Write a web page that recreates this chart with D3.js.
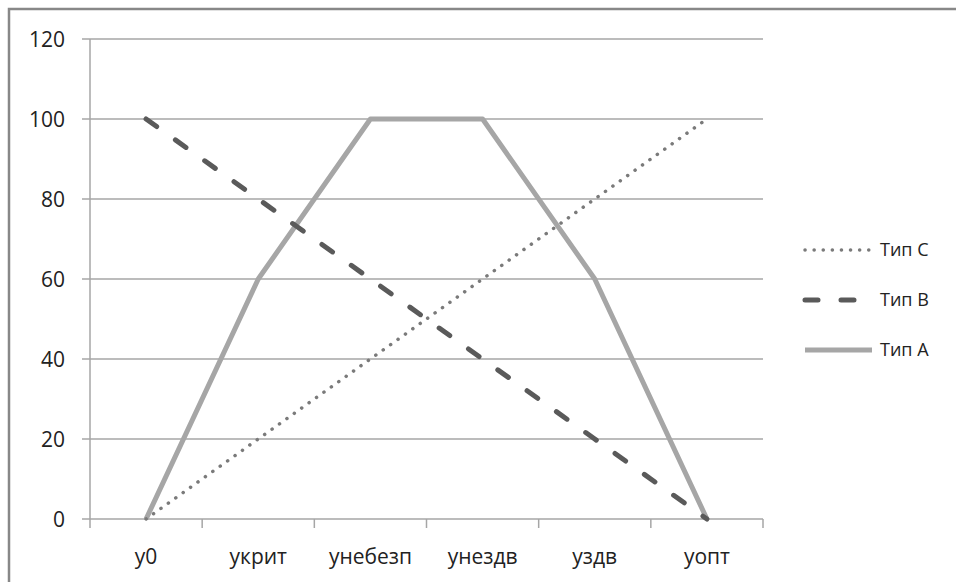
<!DOCTYPE html>
<html><head><meta charset="utf-8">
<script src="https://cdn.jsdelivr.net/npm/d3@7"></script>
<style>body{margin:0;background:#fff}svg{display:block}</style>
</head><body>
<svg id="c" width="956" height="582"></svg>
<script>
const categories = ["y0", "укрит", "унебезп", "унездв", "уздв", "уопт"];
const seriesNames = ["Тип C", "Тип B", "Тип A"];
const typeC = [0, 20, 40, 60, 80, 100];
const typeB = [100, 80, 60, 40, 20, 0];
const typeA = [0, 60, 100, 100, 60, 0];
const yTicks = [0, 20, 40, 60, 80, 100, 120];

const svg = d3.select("#c");
const font = "'Open Sans', 'Noto Sans', sans-serif";
const W = 956, H = 582;
const m = {left: 90, right: 763, top: 39, bottom: 519};

svg.append("rect").attr("x", 9).attr("y", 9).attr("width", W + 20).attr("height", H + 20)
  .attr("fill", "#fff").attr("stroke", "#888").attr("stroke-width", 2.5);

const x = d3.scaleBand().domain(categories).range([m.left, m.right]);
const y = d3.scaleLinear().domain([0, 120]).range([m.bottom, m.top]);

// gridlines
svg.append("g").selectAll("line").data(yTicks).join("line")
  .attr("x1", m.left - 8).attr("x2", m.right)
  .attr("y1", d => y(d)).attr("y2", d => y(d))
  .attr("stroke", "#a6a6a6").attr("stroke-width", 1.5);

// y axis line
svg.append("line").attr("x1", m.left).attr("x2", m.left).attr("y1", m.top).attr("y2", m.bottom)
  .attr("stroke", "#a6a6a6").attr("stroke-width", 1.5);

// y labels
svg.append("g").selectAll("text").data(yTicks).join("text")
  .attr("x", 65).attr("y", d => y(d)).attr("dy", "0.36em")
  .attr("text-anchor", "end").attr("font-family", font).attr("font-size", 21)
  .attr("fill", "#222").text(d => d);

// x axis ticks
const tickPos = categories.map(c => x(c)).concat([m.right]);
svg.append("g").selectAll("line").data(tickPos).join("line")
  .attr("x1", d => d).attr("x2", d => d).attr("y1", m.bottom).attr("y2", m.bottom + 9)
  .attr("stroke", "#a6a6a6").attr("stroke-width", 1.5);

svg.append("g").selectAll("text").data(categories).join("text")
  .attr("x", d => x(d) + x.bandwidth() / 2).attr("y", 556).attr("dy", "0.36em")
  .attr("text-anchor", "middle").attr("font-family", font).attr("font-size", 21)
  .attr("fill", "#222").text(d => d);

const line = d3.line().x((d, i) => x(categories[i]) + x.bandwidth() / 2).y(d => y(d));

const styles = [
  {data: typeC, color: "#7a7a7a", width: 3.5, dash: "0.1 9", cap: "round"},
  {data: typeB, color: "#5a5a5a", width: 5, dash: "13 23", cap: "round"},
  {data: typeA, color: "#a6a6a6", width: 5, dash: null, cap: "butt"}
];

[2, 0, 1].forEach(k => {
  const s = styles[k];
  svg.append("path").attr("d", line(s.data)).attr("fill", "none")
    .attr("stroke", s.color).attr("stroke-width", s.width)
    .attr("stroke-dasharray", s.dash).attr("stroke-linecap", s.cap)
    .attr("stroke-linejoin", "round");
});

// legend
const legY = [250, 300, 350];
const legX2 = [869, 856, 872];
seriesNames.forEach((n, i) => {
  const s = styles[i];
  svg.append("line").attr("x1", 805).attr("x2", legX2[i]).attr("y1", legY[i]).attr("y2", legY[i])
    .attr("stroke", s.color).attr("stroke-width", s.width)
    .attr("stroke-dasharray", i === 1 ? "13 23" : s.dash).attr("stroke-linecap", s.cap);
  svg.append("text").attr("x", 880).attr("y", legY[i]).attr("dy", "0.36em")
    .attr("font-family", font).attr("font-size", 18).attr("fill", "#222").text(n);
});
</script>
</body></html>
